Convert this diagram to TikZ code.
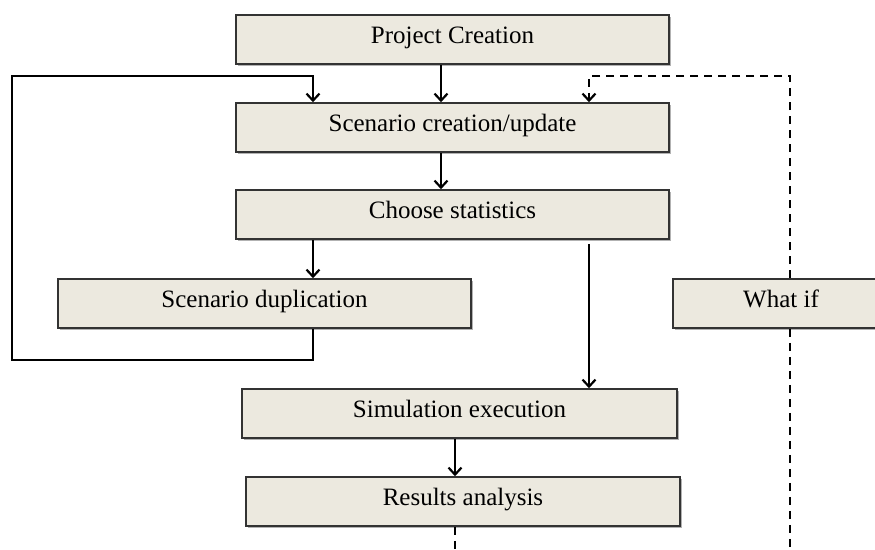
\documentclass[tikz,border=0pt]{standalone}
\usepackage{fontspec}
\setmainfont{Liberation Serif}
\usetikzlibrary{arrows.meta,shadows}
\definecolor{boxfill}{HTML}{ECE9DF}
\definecolor{boxline}{HTML}{333333}
\begin{document}
\begin{tikzpicture}[x=1pt,y=-1pt,
  stepbox/.style={draw=boxline, line width=1.6pt, fill=boxfill,
    minimum height=49pt, inner sep=0pt, text height=14pt, text depth=6.5pt,
    font=\fontsize{25}{28}\selectfont,
    drop shadow={shadow xshift=1.8pt, shadow yshift=-1.8pt, opacity=0.3, fill=black}},
  tip/.style={-{Straight Barb[length=7pt,width=13pt,line width=2.2pt]}},
  flow/.style={line width=2.5pt, tip},
  plainline/.style={line width=2.5pt},
  dashline/.style={line width=2.5pt, dash pattern=on 8pt off 6pt}
]
\useasboundingbox (0,0) rectangle (875,549);

% process steps
\node[stepbox, minimum width=433pt] (proj)   at (452.5,39.5)  {Project Creation};
\node[stepbox, minimum width=433pt] (scen)   at (452.5,127.5) {Scenario creation/update};
\node[stepbox, minimum width=433pt] (stats)  at (452.5,214.5) {Choose statistics};
\node[stepbox, minimum width=413pt] (dup)    at (264.5,303.5) {Scenario duplication};
\node[stepbox, minimum width=216pt] (whatif) at (781,303.5)   {What if};
\node[stepbox, minimum width=435pt] (sim)    at (459.5,413.5) {Simulation execution};
\node[stepbox, minimum width=434pt] (res)    at (463,501.5)   {Results analysis};

% routing columns and turning points
\coordinate (cmain)  at (441,0);
\coordinate (cdup)   at (313,0);
\coordinate (csim)   at (589,0);
\coordinate (cexec)  at (455,0);
\coordinate (cwhat)  at (790,0);
\coordinate (loopbl) at (12,360);
\coordinate (looptl) at (12,76);
\coordinate (looptr) at (313,76);
\coordinate (backtr) at (790,76);
\coordinate (backtl) at (589,76);
\coordinate (resend) at (455,549);
\coordinate (whend)  at (790,549);

% main flow
\draw[flow] (proj.south -| cmain) -- (scen.north -| cmain);
\draw[flow] (scen.south -| cmain) -- (stats.north -| cmain);
\draw[flow] (stats.south -| cdup) -- (dup.north -| cdup);
\draw[flow, shorten <=4pt] (stats.south -| csim) -- (sim.north -| csim);
\draw[flow] (sim.south -| cexec) -- (res.north -| cexec);

% duplication loop back to scenario creation
\draw[flow] (dup.south -| cdup) -- (loopbl -| cdup) -- (loopbl) -- (looptl)
  -- (looptr) -- (scen.north -| cdup);

% what-if feedback
\draw[dashline, tip]
  (whatif.north -| cwhat) -- (backtr) -- (backtl) -- (scen.north -| csim);
\draw[dashline] (whatif.south -| cwhat) -- (whend);
\draw[dashline] (res.south -| cexec) -- (resend);
\end{tikzpicture}
\end{document}
